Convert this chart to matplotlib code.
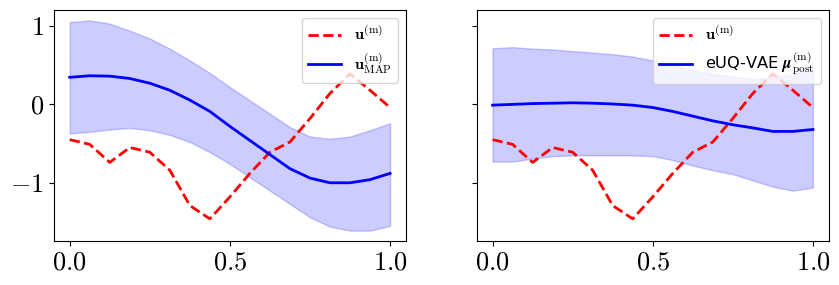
import numpy as np
import matplotlib
matplotlib.use("Agg")
import matplotlib.pyplot as plt

plt.rcParams['mathtext.fontset'] = 'cm'
plt.rcParams['font.family'] = 'serif'
plt.rcParams['font.serif'] = ['cmr10']
plt.rcParams['axes.formatter.use_mathtext'] = True

# grid points
x = np.linspace(0, 1, 17)

# true parameter
u_true = [-0.45, -0.51, -0.74, -0.55, -0.61, -0.84, -1.29, -1.46, -1.18,
          -0.88, -0.61, -0.48, -0.18, 0.14, 0.39, 0.18, -0.04]

# MAP estimate + band
u_map = [0.345, 0.365, 0.36, 0.33, 0.27, 0.18, 0.055, -0.09, -0.28,
         -0.46, -0.64, -0.82, -0.94, -1.0, -1.0, -0.96, -0.88]
map_hi = [1.05, 1.07, 1.03, 0.94, 0.84, 0.71, 0.56, 0.40, 0.22,
          0.05, -0.12, -0.29, -0.41, -0.44, -0.41, -0.33, -0.24]
map_lo = [-0.37, -0.35, -0.32, -0.30, -0.33, -0.39, -0.48, -0.61, -0.76,
          -0.93, -1.10, -1.27, -1.44, -1.56, -1.61, -1.61, -1.55]

# eUQ-VAE posterior mean + band
vae_mu = [-0.01, 0.0, 0.01, 0.015, 0.02, 0.015, 0.005, -0.01, -0.04,
          -0.09, -0.15, -0.21, -0.26, -0.30, -0.345, -0.345, -0.32]
vae_hi = [0.715, 0.73, 0.71, 0.70, 0.68, 0.66, 0.64, 0.61, 0.56,
          0.50, 0.44, 0.39, 0.35, 0.32, 0.35, 0.39, 0.42]
vae_lo = [-0.73, -0.73, -0.69, -0.66, -0.65, -0.65, -0.65, -0.65, -0.66,
          -0.71, -0.78, -0.84, -0.89, -0.97, -1.05, -1.10, -1.06]

fig, axes = plt.subplots(1, 2, sharey=True, figsize=(8.39, 2.85), dpi=100)
fig.subplots_adjust(left=0.064, right=0.988, top=0.965, bottom=0.154, wspace=0.2)

panels = [
    (u_map, map_lo, map_hi, r'$\mathbf{u}^{(\mathrm{m})}_{\mathrm{MAP}}$'),
    (vae_mu, vae_lo, vae_hi, r'eUQ-VAE $\mathbfit{\mu}^{(\mathrm{m})}_{\mathrm{post}}$'),
]

for ax, (mu, lo, hi, lab) in zip(axes, panels):
    ax.plot(x, u_true, 'r--', lw=2, label=r'$\mathbf{u}^{(\mathrm{m})}$')
    ax.plot(x, mu, 'b-', lw=2, label=lab)
    ax.fill_between(x, lo, hi, color='blue', alpha=0.2)
    ax.tick_params(labelsize=19)
    ax.set_xticks([0, 0.5, 1.0])
    ax.legend(loc='upper right', prop={'family': 'DejaVu Sans', 'size': 11.7})

axes[0].set_yticks([-1, 0, 1])

fig.savefig('out.png', dpi=100)
